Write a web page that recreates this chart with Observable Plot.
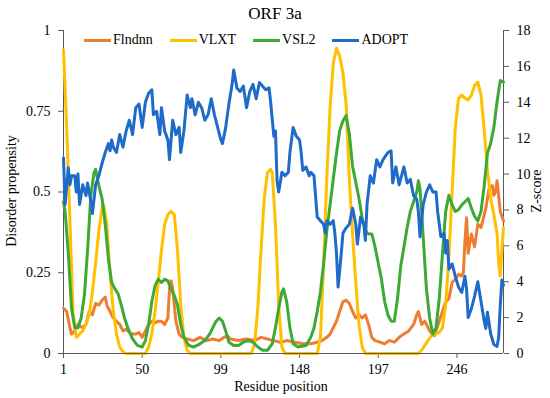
<!DOCTYPE html>
<html>
<head>
<meta charset="utf-8">
<script src="https://cdn.jsdelivr.net/npm/d3@7"></script>
<script src="https://cdn.jsdelivr.net/npm/@observablehq/plot@0.6"></script>
<style>
  html, body { margin: 0; padding: 0; background: #fff; }
  #wrap { position: relative; width: 550px; height: 398px; font-family: "Liberation Serif", "DejaVu Serif", serif; color: #000; }
  #wrap svg { position: absolute; left: 0; top: 0; }
  #wrap svg text { font-family: "Liberation Serif", "DejaVu Serif", serif; }
  .ov { position: absolute; white-space: nowrap; font-size: 14px; line-height: 1; font-family: "Liberation Serif", "DejaVu Serif", serif; }
  #title { left: 0; width: 550px; top: 5px; text-align: center; font-size: 17px; }
  #legend { left: 84px; top: 33px; display: flex; align-items: center; }
  .li { display: flex; align-items: center; margin-right: 17px; }
  .sw { width: 27px; height: 3px; margin-right: 2px; }
  #ylab { left: 12px; top: 191px; transform: translate(-50%, -50%) rotate(-90deg); }
  #zlab { left: 537px; top: 191px; transform: translate(-50%, -50%) rotate(-90deg); }
  #xlab { left: 281px; top: 380px; transform: translateX(-50%); }
</style>
</head>
<body>
<div id="wrap"></div>
<script>
// ---- data ----
const title = "ORF 3a";
const xLabel = "Residue position";
const yLabel = "Disorder propensity";
const zLabel = "Z-score";
const seriesNames = ["Flndnn", "VLXT", "VSL2", "ADOPT"];
const seriesColors = ["#ED7D31", "#FFC000", "#3DAA35", "#1F6BC9"];
const xTicks = [1, 50, 99, 148, 197, 246];
const yTicks = [0, 0.25, 0.5, 0.75, 1];
const zTicks = [0, 2, 4, 6, 8, 10, 12, 14, 16, 18];
const zMax = 18;

// Flndnn (disorder propensity)
const flndnnPos = [1,3,5,6,8,10,11,13,15,17,19,21,23,25,27,28,30,32,34,36,38,40,42,44,46,48,50,52,54,56,58,60,62,64,66,67,68,69,70,71,73,75,78,82,86,90,94,98,101,103,105,110,115,120,124,128,132,136,140,145,150,155,159,162,165,167,169,171,173,175,177,179,181,183,185,187,189,191,193,195,198,201,204,207,210,213,216,219,221,222,224,226,229,232,235,237,239,241,243,245,247,249,250,251,252,253,255,257,259,261,263,264,266,268,269,270,271,273,275];
const flndnnVal = [0.14,0.13,0.08,0.06,0.07,0.09,0.085,0.08,0.09,0.13,0.12,0.155,0.15,0.165,0.175,0.15,0.13,0.11,0.10,0.09,0.07,0.075,0.065,0.06,0.06,0.065,0.05,0.07,0.09,0.10,0.095,0.10,0.10,0.09,0.11,0.20,0.225,0.20,0.15,0.10,0.06,0.05,0.045,0.04,0.05,0.04,0.045,0.04,0.05,0.055,0.045,0.04,0.045,0.04,0.05,0.045,0.04,0.035,0.04,0.035,0.03,0.03,0.035,0.04,0.05,0.06,0.08,0.10,0.13,0.16,0.165,0.155,0.13,0.11,0.12,0.11,0.12,0.09,0.05,0.04,0.035,0.03,0.04,0.035,0.05,0.06,0.07,0.09,0.12,0.13,0.09,0.10,0.07,0.055,0.10,0.13,0.16,0.17,0.22,0.23,0.245,0.24,0.25,0.35,0.42,0.31,0.37,0.33,0.40,0.39,0.43,0.45,0.51,0.52,0.49,0.50,0.535,0.44,0.41];

// VLXT (disorder propensity)
const vlxtPos = [1,3,5,7,9,11,13,15,17,19,21,23,25,26,28,30,32,34,36,38,40,52,54,56,58,60,62,64,66,68,70,72,74,76,78,80,118,120,122,124,126,128,130,131,133,135,137,139,159,161,163,165,167,169,171,173,175,177,179,181,183,185,187,189,222,224,226,228,230,232,235,237,239,241,243,245,247,249,251,253,255,257,259,261,263,265,267,269,271,272,273,274,275];
const vlxtVal = [0.94,0.70,0.41,0.12,0.05,0.06,0.07,0.09,0.12,0.19,0.28,0.38,0.45,0.46,0.40,0.25,0.13,0.06,0.02,0.005,0,0,0.02,0.06,0.13,0.22,0.32,0.40,0.43,0.44,0.43,0.32,0.15,0.05,0.01,0,0,0.03,0.14,0.32,0.48,0.56,0.57,0.56,0.40,0.15,0.02,0,0,0.05,0.28,0.55,0.76,0.90,0.945,0.92,0.87,0.77,0.54,0.37,0.22,0.09,0.02,0,0,0.01,0.025,0.04,0.055,0.06,0.065,0.08,0.15,0.30,0.50,0.70,0.79,0.80,0.79,0.785,0.80,0.83,0.84,0.80,0.69,0.57,0.48,0.43,0.37,0.28,0.24,0.32,0.39];

// VSL2 (disorder propensity)
const vsl2Pos = [1,2,4,6,8,10,12,14,16,18,20,21,23,25,27,29,31,33,35,37,39,41,44,47,50,52,54,56,58,60,62,64,66,68,70,72,74,76,79,82,86,89,92,94,96,98,100,102,104,107,110,113,116,119,122,125,128,131,133,135,137,138,140,142,144,147,152,155,157,159,161,163,165,167,169,171,173,175,177,179,181,183,185,187,189,191,193,195,197,199,201,203,205,207,209,211,213,215,217,219,221,222,223,224,225,227,229,231,233,235,237,239,241,243,245,247,249,251,253,255,257,259,261,263,265,267,269,271,273,275];
const vsl2Val = [0.47,0.44,0.31,0.14,0.08,0.08,0.11,0.18,0.32,0.49,0.56,0.57,0.52,0.48,0.40,0.29,0.22,0.20,0.185,0.15,0.11,0.08,0.045,0.025,0.02,0.04,0.09,0.16,0.21,0.23,0.22,0.23,0.225,0.20,0.18,0.15,0.09,0.05,0.025,0.02,0.03,0.04,0.06,0.08,0.10,0.11,0.10,0.07,0.035,0.025,0.025,0.035,0.04,0.035,0.02,0.01,0.01,0.03,0.08,0.14,0.19,0.20,0.16,0.08,0.03,0.02,0.025,0.05,0.08,0.13,0.19,0.28,0.38,0.46,0.54,0.62,0.69,0.72,0.737,0.68,0.58,0.53,0.48,0.42,0.38,0.37,0.37,0.33,0.28,0.23,0.16,0.12,0.10,0.10,0.17,0.27,0.33,0.39,0.44,0.47,0.50,0.535,0.51,0.44,0.36,0.20,0.11,0.06,0.08,0.17,0.31,0.44,0.49,0.46,0.44,0.445,0.46,0.47,0.48,0.45,0.425,0.41,0.44,0.52,0.62,0.65,0.70,0.78,0.845,0.84];

// ADOPT (Z-score, right axis)
const adoptPos = [1,2,4,5,6,8,9,10,11,13,15,16,18,19,21,23,25,27,29,30,31,32,34,36,38,40,42,44,46,48,50,52,54,56,57,59,61,62,64,66,67,69,71,73,74,76,78,80,81,83,85,87,89,91,93,95,97,99,100,102,104,106,107,109,111,113,115,117,119,121,123,125,127,129,130,132,133,134,135,137,139,141,142,144,146,148,149,150,152,154,155,157,159,161,163,164,165,167,169,170,171,172,174,175,177,179,181,183,184,186,188,189,190,192,194,196,198,200,203,205,206,208,210,213,215,217,219,221,222,223,225,227,229,231,233,234,236,238,239,240,241,243,245,247,249,251,252,253,255,257,259,261,263,264,265,267,269,271,272,273,274,275];
const adoptZ = [10.9,8.3,10.35,9.4,9.9,9.9,9.0,10.0,8.3,9.4,8.8,9.5,8.5,7.8,9.4,9.9,10.6,11.2,11.7,11.3,11.9,11.5,11.2,12.2,11.5,12.4,13.0,12.2,13.7,13.9,12.6,14.0,14.5,14.7,13.3,13.5,12.2,13.7,12.4,11.9,10.8,13.0,12.2,12.6,11.2,12.4,14.4,13.7,14.2,13.3,14.0,13.7,13.0,13.3,14.2,13.3,12.6,11.9,11.7,12.6,13.9,15.0,15.8,14.8,14.6,14.9,13.7,14.6,15.0,14.2,15.1,14.9,14.7,14.8,14.0,12.1,12.4,9.6,9.0,10.1,9.9,10.1,11.2,12.6,12.1,11.9,11.2,10.2,10.4,9.9,10.1,9.9,7.6,7.4,7.2,6.7,7.4,7.2,7.4,6.7,5.6,3.7,5.6,6.7,7.0,7.2,8.1,7.2,6.1,7.6,7.2,6.3,8.3,9.9,9.5,10.8,10.4,10.8,11.2,11.3,9.5,10.4,9.4,10.4,9.5,9.7,8.8,8.6,7.9,6.5,8.3,9.0,9.4,9.0,9.0,7.9,6.5,6.7,5.6,6.3,4.7,5.0,4.3,3.7,3.4,4.3,3.6,2.0,2.5,3.2,4.0,2.9,1.8,1.4,2.3,1.1,0.5,0.4,0.9,2.7,4.1,3.8];

// ---- build tables ----
const toRows = (pos, vals, scale = 1) => pos.map((r, i) => ({r, v: vals[i] / scale}));
const series = [
  toRows(flndnnPos, flndnnVal),
  toRows(vlxtPos, vlxtVal),
  toRows(vsl2Pos, vsl2Val),
  toRows(adoptPos, adoptZ, zMax)
];

const axisColor = "#595959";
const fontStack = '"Liberation Serif", "DejaVu Serif", serif';
const chart = Plot.plot({
  width: 550,
  height: 398,
  marginTop: 30,
  marginBottom: 45,
  marginLeft: 63,
  marginRight: 47,
  style: {fontFamily: fontStack, fontSize: "14px", color: "#000", background: "transparent"},
  x: {domain: [1, 275]},
  y: {domain: [0, 1]},
  marks: [
    Plot.axisX({ticks: xTicks, tickSize: 5, tickPadding: 6, label: null, stroke: axisColor, fill: "#000", fontSize: 14, tickFormat: d => String(d)}),
    Plot.axisY({anchor: "left", ticks: yTicks, tickSize: 5, tickPadding: 8, label: null, stroke: axisColor, fill: "#000", fontSize: 14, tickFormat: d => String(d)}),
    Plot.axisY({anchor: "right", ticks: zTicks.map(z => z / zMax), tickSize: 5, tickPadding: 8, label: null, stroke: axisColor, fill: "#000", fontSize: 14, tickFormat: d => String(Math.round(d * zMax))}),
    Plot.ruleX([1], {stroke: axisColor}),
    Plot.ruleX([275], {stroke: axisColor}),
    ...series.map((rows, i) => Plot.line(rows, {x: "r", y: "v", stroke: seriesColors[i], strokeWidth: 3, strokeLinejoin: "round"})),
    Plot.ruleY([0], {stroke: axisColor})
  ]
});

const wrap = document.getElementById("wrap");
wrap.appendChild(chart);

function addText(id, text) {
  const d = document.createElement("div");
  d.className = "ov"; d.id = id; d.textContent = text;
  wrap.appendChild(d);
}
addText("title", title);
addText("ylab", yLabel);
addText("zlab", zLabel);
addText("xlab", xLabel);

const lg = document.createElement("div");
lg.className = "ov"; lg.id = "legend";
seriesNames.forEach((name, i) => {
  const it = document.createElement("div"); it.className = "li";
  const sw = document.createElement("span"); sw.className = "sw"; sw.style.background = seriesColors[i];
  const tx = document.createElement("span"); tx.textContent = name;
  it.appendChild(sw); it.appendChild(tx); lg.appendChild(it);
});
wrap.appendChild(lg);
</script>
</body>
</html>
